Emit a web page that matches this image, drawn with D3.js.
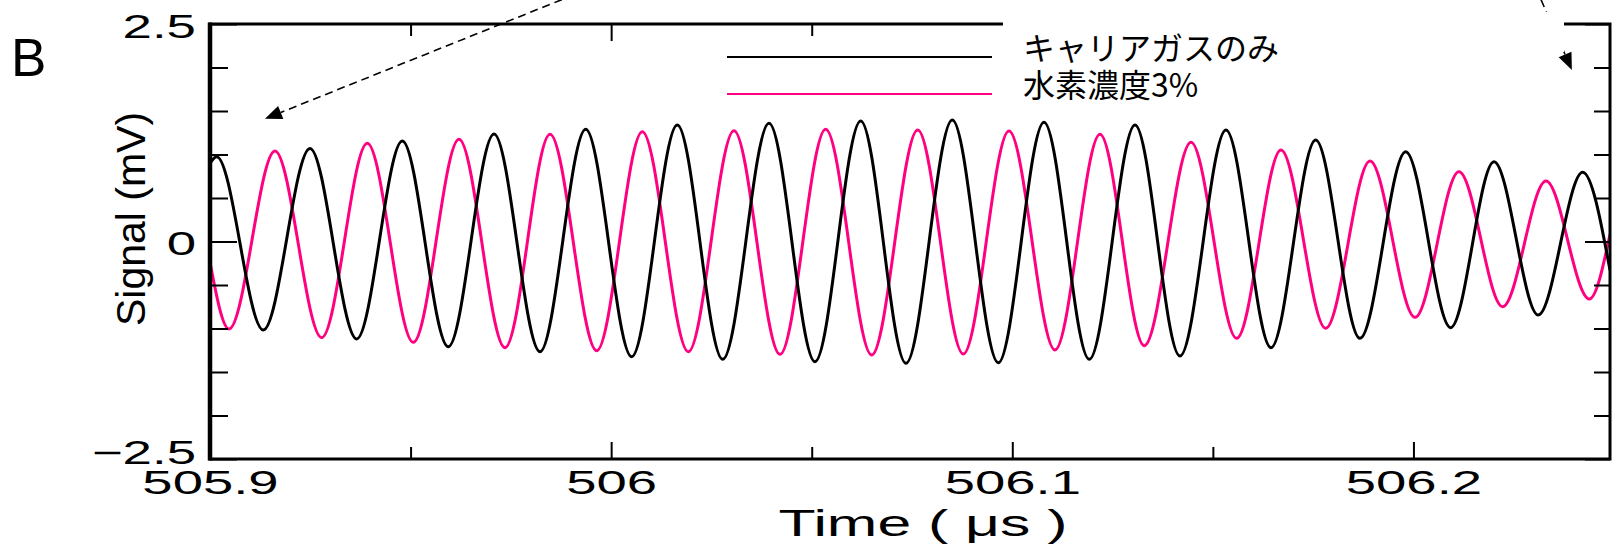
<!DOCTYPE html>
<html>
<head>
<meta charset="utf-8">
<script src="https://cdn.jsdelivr.net/npm/d3@7"></script>
<style>
  html, body { margin: 0; padding: 0; background: #fff; }
  svg { display: block; }
  text { font-family: "Liberation Sans", Arial, sans-serif; fill: #000; }
</style>
</head>
<body>
<div id="chart"></div>
<script>
// peaks / troughs (time in µs, signal in mV)
const carrierTime = [505.9, 505.90167, 505.91329, 505.92493, 505.93657, 505.94794, 505.9594, 505.9708, 505.98226, 505.99366,
  506.00512, 506.01649, 506.02781, 506.03935, 506.05082, 506.06221, 506.0735, 506.08504, 506.09651, 506.1079,
  506.11919, 506.13059, 506.1418, 506.15327, 506.16449, 506.17563, 506.18667, 506.19807, 506.20928, 506.22008,
  506.23112, 506.24219, 506.249]
const carrierSignal = [0.9, 0.975, -1.017, 1.07, -1.12, 1.155, -1.21, 1.236, -1.266, 1.29,
  -1.324, 1.339, -1.354, 1.358, -1.381, 1.385, -1.4, 1.397, -1.393, 1.37,
  -1.354, 1.339, -1.316, 1.282, -1.22, 1.167, -1.113, 1.032, -0.99, 0.918,
  -0.845, 0.795, -0.33]

const h2Time = [505.9, 505.90474, 505.9162, 505.92785, 505.93921, 505.95068, 505.96207, 505.97354, 505.98476, 505.9964,
  506.00777, 506.01923, 506.03062, 506.04209, 506.05348, 506.06495, 506.07642, 506.08778, 506.09918, 506.11064,
  506.12186, 506.1329, 506.14455, 506.15594, 506.16698, 506.17813, 506.18917, 506.20039, 506.21135, 506.22225,
  506.23304, 506.24384, 506.249]
const h2Signal = [-0.24, -1.006, 1.04, -1.105, 1.128, -1.159, 1.174, -1.22, 1.232, -1.255,
  1.262, -1.267, 1.274, -1.297, 1.29, -1.305, 1.282, -1.293, 1.27, -1.247,
  1.232, -1.197, 1.14, -1.113, 1.052, -0.998, 0.925, -0.872, 0.803, -0.749,
  0.695, -0.661, 0.08]

const seriesNames = ["キャリアガスのみ", "水素濃度3%"]
const seriesColors = ["#000000", "#ff0080"]

const xDomain = [505.9, 506.249]
const yDomain = [-2.5, 2.5]
const xMajorTicks = [505.9, 506, 506.1, 506.2]
const xMinorTicks = [505.95, 506.05, 506.15]
const yMajorTicks = [-2.5, 0, 2.5]
const yMinorTicks = [-2, -1.5, -1, -0.5, 0.5, 1, 1.5, 2]

// dashed pointers coming down from the panel above (data units)
const arrowFrom = [[505.9877, 2.78], [506.2318, 2.78]]
const arrowTo = [[505.9137, 1.41], [506.2395, 1.97]]

const width = 1612
const height = 546
const margin = { top: 24, left: 210 }
const plotW = 1400
const plotH = 435
// the latin labels are drawn wide in the original
const xStretch = 1.65
const yStretch = 1.6

const svg = d3.select("#chart").append("svg")
  .attr("width", width)
  .attr("height", height)

const g = svg.append("g")
  .attr("transform", "translate(" + margin.left + "," + margin.top + ")")

const x = d3.scaleLinear().domain(xDomain).range([0, plotW])
const y = d3.scaleLinear().domain(yDomain).range([plotH, 0])

g.append("clipPath").attr("id", "plot-clip")
  .append("rect").attr("width", plotW).attr("height", plotH)

const series = [
  { t: carrierTime, v: carrierSignal, color: seriesColors[0] },
  { t: h2Time, v: h2Signal, color: seriesColors[1] }
]

const line = d3.line()
  .x((d) => x(d[0]))
  .y((d) => y(d[1]))
  .curve(d3.curveMonotoneX)

// pink drawn first, black on top
series.slice().reverse().forEach((s) => {
  g.append("path")
    .datum(s.t.map((t, i) => [t, s.v[i]]))
    .attr("clip-path", "url(#plot-clip)")
    .attr("fill", "none")
    .attr("stroke", s.color)
    .attr("stroke-width", 3)
    .attr("stroke-linejoin", "round")
    .attr("d", line)
})

// axes, ticks pointing inward on all four sides
function tickStyle(sel) {
  sel.select(".domain").remove()
  sel.selectAll(".tick line").attr("stroke", "#000").attr("stroke-width", 2)
}

g.append("g").attr("transform", "translate(0," + plotH + ")")
  .call(d3.axisBottom(x).tickValues(xMajorTicks).tickSize(-17).tickFormat(d3.format("")))
  .call(tickStyle)
  .call((a) => a.selectAll("text")
    .attr("y", null).attr("dy", null)
    .attr("font-size", 33)
    .attr("text-anchor", "middle")
    .attr("transform", "translate(0,35) scale(" + xStretch + ",1)"))

g.append("g").attr("transform", "translate(0," + plotH + ")")
  .call(d3.axisBottom(x).tickValues(xMinorTicks).tickSize(-12).tickFormat(""))
  .call(tickStyle)

g.append("g")
  .call(d3.axisTop(x).tickValues(xMajorTicks).tickSize(-17).tickFormat(""))
  .call(tickStyle)
g.append("g")
  .call(d3.axisTop(x).tickValues(xMinorTicks).tickSize(-12).tickFormat(""))
  .call(tickStyle)

g.append("g")
  .call(d3.axisLeft(y).tickValues(yMajorTicks).tickSize(-27).tickFormat(d3.format("")))
  .call(tickStyle)
  .call((a) => a.selectAll("text")
    .attr("x", null).attr("dy", null)
    .attr("font-size", 33)
    .attr("text-anchor", "end")
    .attr("transform", (d) => "translate(-14," + (d === -2.5 ? 4 : 13) + ") scale(" + yStretch + ",1)"))
g.append("g")
  .call(d3.axisLeft(y).tickValues(yMinorTicks).tickSize(-18).tickFormat(""))
  .call(tickStyle)

g.append("g").attr("transform", "translate(" + plotW + ",0)")
  .call(d3.axisRight(y).tickValues(yMajorTicks).tickSize(-25).tickFormat(""))
  .call(tickStyle)
g.append("g").attr("transform", "translate(" + plotW + ",0)")
  .call(d3.axisRight(y).tickValues(yMinorTicks).tickSize(-16).tickFormat(""))
  .call(tickStyle)

// frame
g.append("rect")
  .attr("width", plotW).attr("height", plotH)
  .attr("fill", "none").attr("stroke", "#000").attr("stroke-width", 3)
g.append("line")
  .attr("x1", 0).attr("x2", 0).attr("y1", -1.5).attr("y2", plotH + 1.5)
  .attr("stroke", "#000").attr("stroke-width", 4.5)

// dashed arrows
arrowFrom.forEach((p, i) => {
  const x0 = x(p[0]), y0 = y(p[1])
  const x1 = x(arrowTo[i][0]), y1 = y(arrowTo[i][1])
  const a = Math.atan2(y1 - y0, x1 - x0)
  const headL = 17, headW = 7
  const bx = x1 - headL * Math.cos(a), by = y1 - headL * Math.sin(a)
  g.append("line")
    .attr("x1", x0).attr("y1", y0).attr("x2", bx).attr("y2", by)
    .attr("stroke", "#000").attr("stroke-width", 1.6)
    .attr("stroke-dasharray", "8,5")
  g.append("polygon")
    .attr("points", [
      [x1, y1],
      [bx + headW * Math.sin(a), by - headW * Math.cos(a)],
      [bx - headW * Math.sin(a), by + headW * Math.cos(a)]
    ].map((q) => q.join(",")).join(" "))
    .attr("fill", "#000")
})

// legend: white background hides the frame behind it
svg.append("rect")
  .attr("x", 1003).attr("y", 12).attr("width", 561).attr("height", 40)
  .attr("fill", "#fff")

const legend = svg.append("g")
seriesNames.forEach((name, i) => {
  legend.append("line")
    .attr("x1", 727).attr("x2", 992)
    .attr("y1", 57 + i * 37).attr("y2", 57 + i * 37)
    .attr("stroke", seriesColors[i]).attr("stroke-width", 2)
  legend.append("text")
    .attr("x", 1023).attr("y", 60 + i * 37)
    .style("font-family", "'Noto Sans CJK JP', 'Noto Sans', sans-serif")
    .attr("font-size", 32)
    .text(name)
})

// titles
svg.append("text")
  .attr("text-anchor", "middle")
  .attr("font-size", 37)
  .attr("transform", "translate(923,536) scale(1.64,1)")
  .text("Time (  μs )")

svg.append("text")
  .attr("text-anchor", "middle")
  .attr("font-size", 41)
  .attr("transform", "translate(145,219) rotate(-90)")
  .text("Signal (mV)")

svg.append("text")
  .attr("x", 11).attr("y", 76)
  .attr("font-size", 53)
  .text("B")
</script>
</body>
</html>
